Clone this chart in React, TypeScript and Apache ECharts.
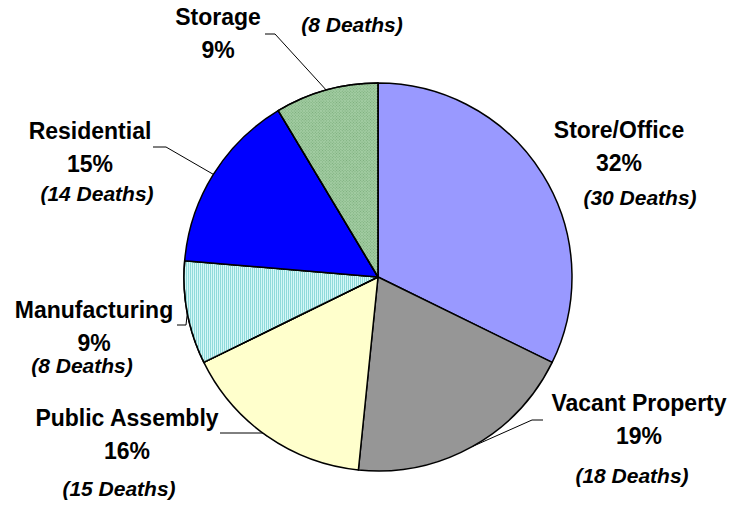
import React, { useEffect, useRef } from 'react';
import * as echarts from 'echarts';

// ---- data ----
const categories = ['Store/Office', 'Vacant Property', 'Public Assembly', 'Manufacturing', 'Residential', 'Storage'];
const deaths = [30, 18, 15, 8, 14, 8];

// ---- styling / layout (kept separate from data) ----
const sliceColors = ['#9999FF', '#969696', '#FFFFCC', '#D4F7F7', '#0000FF', '#A2CCA2'];
const labelCenters: number[][] = [[619, 146.5], [639, 419], [127, 434], [94, 326], [90, 147.5], [218, 33]];
const leaderTails: (number[][] | null)[] = [
  null,
  [[532, 420], [543, 420]],
  [[263, 433], [220, 433]],
  [[186, 325], [177, 325]],
  [[166, 147], [153, 147]],
  [[275, 34], [265, 34]],
];
const deathsCenters: number[][] = [[640, 197], [632, 475], [119, 488], [82, 365], [97, 193], [352, 24]];

const FONT = '"Liberation Sans", Arial, sans-serif';

const decals: any[] = [
  null,
  null,
  null,
  { symbol: 'rect', symbolSize: 1, color: '#8FDADA', dashArrayX: [1, 1], dashArrayY: [3, 0] },
  null,
  { symbol: 'rect', symbolSize: 1, color: '#7AAD7A', dashArrayX: [1, 1], dashArrayY: [1, 1], rotation: Math.PI / 4 },
];

export default function App() {
  const ref = useRef<HTMLDivElement>(null);
  useEffect(() => {
    if (!ref.current) return;
    const chart = echarts.init(ref.current, null, { renderer: 'svg' });
    const data = categories.map((name, i) => {
      const item: any = {
        name,
        value: deaths[i],
        itemStyle: { color: sliceColors[i], borderColor: '#000', borderWidth: 1.5 },
      };
      if (decals[i]) item.itemStyle.decal = decals[i];
      if (!leaderTails[i]) item.labelLine = { show: false };
      return item;
    });
    chart.setOption({
      animation: false,
      backgroundColor: '#fff',
      series: [
        {
          type: 'pie',
          center: [378, 277],
          radius: 194,
          startAngle: 90,
          clockwise: true,
          percentPrecision: 0,
          avoidLabelOverlap: false,
          silent: true,
          data,
          label: {
            show: true,
            position: 'outside',
            formatter: '{b}\n{d}%',
            fontFamily: FONT,
            fontWeight: 'bold',
            fontSize: 23,
            lineHeight: 33,
            color: '#000',
            align: 'center',
          },
          labelLine: {
            show: true,
            length: 5,
            length2: 5,
            smooth: false,
            lineStyle: { color: '#000', width: 1 },
          },
          labelLayout: (params: any) => {
            const i = params.dataIndex;
            const c = labelCenters[i];
            const out: any = { x: c[0], y: c[1], align: 'center', verticalAlign: 'middle' };
            const tail = leaderTails[i];
            if (tail && params.labelLinePoints) {
              out.labelLinePoints = [params.labelLinePoints[0], tail[0], tail[1]];
            }
            return out;
          },
        },
      ],
      graphic: deaths.map((d, i) => ({
        type: 'text',
        x: deathsCenters[i][0],
        y: deathsCenters[i][1],
        silent: true,
        style: {
          text: `(${d} Deaths)`,
          fontFamily: FONT,
          fontWeight: 'bold',
          fontStyle: 'italic',
          fontSize: 21,
          fill: '#000',
          align: 'center',
          verticalAlign: 'middle',
        },
      })),
    });
    return () => chart.dispose();
  }, []);
  return (
    <div
      ref={ref}
      style={{ position: 'fixed', left: 0, top: 0, width: 736, height: 508, background: '#fff' }}
    />
  );
}
